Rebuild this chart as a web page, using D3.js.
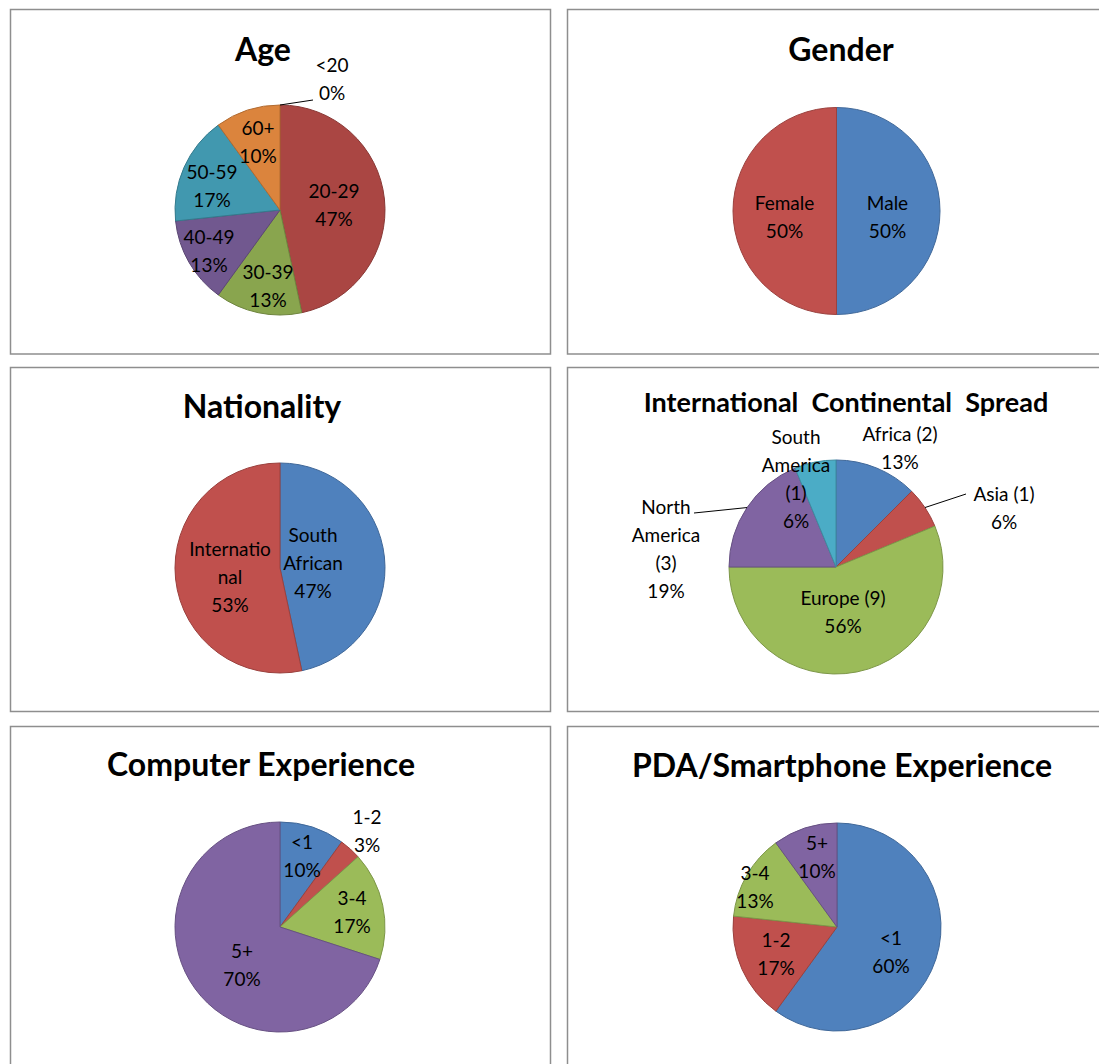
<!DOCTYPE html>
<html>
<head>
<meta charset="utf-8">
<script src="https://cdn.jsdelivr.net/npm/d3@7"></script>
<style>
  html, body { margin: 0; padding: 0; background: #fff; }
  svg { display: block; }
  text { font-family: Lato, "Open Sans", sans-serif; fill: #000; }
</style>
</head>
<body>
<script>
// ---- Survey data (participant counts per category) ----
const ageCategories = ["<20", "20-29", "30-39", "40-49", "50-59", "60+"];
const ageCounts = [0, 14, 4, 4, 5, 3];

const genderCategories = ["Male", "Female"];
const genderCounts = [15, 15];

const nationalityCategories = ["South African", "International"];
const nationalityCounts = [14, 16];

const continentCategories = ["Africa (2)", "Asia (1)", "Europe (9)", "North America (3)", "South America (1)"];
const continentCounts = [2, 1, 9, 3, 1];

const computerCategories = ["<1", "1-2", "3-4", "5+"];
const computerCounts = [3, 1, 5, 21];

const pdaCategories = ["<1", "1-2", "3-4", "5+"];
const pdaCounts = [18, 5, 4, 3];

// ---- Palettes ----
const paletteStandard = ["#4F81BD", "#C0504D", "#9BBB59", "#8064A2", "#4BACC6", "#F79646"];
const paletteDeep = ["#4572A7", "#AA4643", "#89A54E", "#71588F", "#4198AF", "#DB843D"];

// How long category names wrap inside the data labels
const wrapLines = {
  "South African": ["South", "African"],
  "International": ["Internatio", "nal"],
  "North America (3)": ["North", "America", "(3)"],
  "South America (1)": ["South", "America", "(1)"]
};

const W = 1099, H = 1064;
const svg = d3.select("body").append("svg").attr("width", W).attr("height", H);

// Chart frames
const leftX = 10.5, rightX = 567.5, frameW = 540;
const rows = [{ y: 9.5, h: 344.5 }, { y: 367.5, h: 344 }, { y: 726.5, h: 400 }];

const charts = [
  {
    title: "Age", titleX: 263, titleY: 61, titleSize: 32,
    frame: [leftX, 0], cx: 280, cy: 210, r: 105,
    cats: ageCategories, vals: ageCounts, palette: paletteDeep,
    labels: [[52, -131], [54, -5], [-12, 76], [-71, 41], [-68, -24], [-22, -68]],
    leaders: { 0: [33, -110] }
  },
  {
    title: "Gender", titleX: 841, titleY: 61, titleSize: 32,
    frame: [rightX, 0], cx: 836.5, cy: 211, r: 103.5,
    cats: genderCategories, vals: genderCounts, palette: paletteStandard,
    labels: [[51, 6], [-52, 6]]
  },
  {
    title: "Nationality", titleX: 262, titleY: 418, titleSize: 32,
    frame: [leftX, 1], cx: 280, cy: 568, r: 105,
    cats: nationalityCategories, vals: nationalityCounts, palette: paletteStandard,
    labels: [[33, -5], [-50, 9]]
  },
  {
    title: "International  Continental  Spread", titleX: 846, titleY: 412, titleSize: 27,
    frame: [rightX, 1], cx: 836, cy: 567, r: 107,
    cats: continentCategories, vals: continentCounts, palette: paletteStandard,
    labels: [[64, -119], [168, -59], [7, 45], [-170, -18], [-40, -88]],
    leaders: { 1: [130, -73], 3: [-142, -54] }
  },
  {
    title: "Computer Experience", titleX: 261, titleY: 776, titleSize: 32,
    frame: [leftX, 2], cx: 280, cy: 927, r: 105,
    cats: computerCategories, vals: computerCounts, palette: paletteStandard,
    labels: [[22, -71], [87, -96], [72, -15], [-38, 38]]
  },
  {
    title: "PDA/Smartphone Experience", titleX: 842, titleY: 777, titleSize: 32,
    frame: [rightX, 2], cx: 837, cy: 927, r: 104,
    cats: pdaCategories, vals: pdaCounts, palette: paletteStandard,
    labels: [[54, 25], [-61, 27], [-82, -40], [-20, -70]]
  }
];

const lineGap = 28;
const labelSize = 19;

charts.forEach(c => {
  const row = rows[c.frame[1]];
  svg.append("rect")
    .attr("x", c.frame[0]).attr("y", row.y)
    .attr("width", frameW).attr("height", row.h)
    .attr("fill", "#fff").attr("stroke", "#8e8e8e").attr("stroke-width", 1.5);

  svg.append("text")
    .attr("x", c.titleX).attr("y", c.titleY)
    .attr("text-anchor", "middle")
    .attr("font-weight", "bold")
    .attr("font-size", c.titleSize)
    .style("white-space", "pre")
    .text(c.title);

  const total = d3.sum(c.vals);
  const pie = d3.pie().sort(null).value(d => d)(c.vals);
  const arc = d3.arc().innerRadius(0).outerRadius(c.r);
  const g = svg.append("g").attr("transform", `translate(${c.cx},${c.cy})`);

  g.selectAll("path.slice").data(pie).join("path")
    .attr("class", "slice")
    .attr("d", arc)
    .attr("fill", (d, i) => c.palette[i])
    .attr("stroke", (d, i) => d3.color(c.palette[i]).darker(0.6))
    .attr("stroke-width", 1)
    .attr("stroke-linejoin", "round");

  // leader lines from the slice edge to labels placed outside
  if (c.leaders) {
    Object.entries(c.leaders).forEach(([k, end]) => {
      const d = pie[+k];
      const a = (d.startAngle + d.endAngle) / 2;
      const sx = c.r * Math.sin(a), sy = -c.r * Math.cos(a);
      g.append("line")
        .attr("x1", sx).attr("y1", sy)
        .attr("x2", end[0]).attr("y2", end[1])
        .attr("stroke", "#000").attr("stroke-width", 1);
    });
  }

  pie.forEach((d, i) => {
    const name = c.cats[i];
    const lines = (wrapLines[name] || [name]).concat([Math.round(c.vals[i] / total * 100) + "%"]);
    const [lx, ly] = c.labels[i];
    const t = g.append("text")
      .attr("text-anchor", "middle")
      .attr("font-size", labelSize);
    const top = ly - (lines.length - 1) * lineGap / 2;
    lines.forEach((s, j) => {
      t.append("tspan")
        .attr("x", lx)
        .attr("y", top + j * lineGap + labelSize * 0.36)
        .text(s);
    });
  });
});
</script>
</body>
</html>
